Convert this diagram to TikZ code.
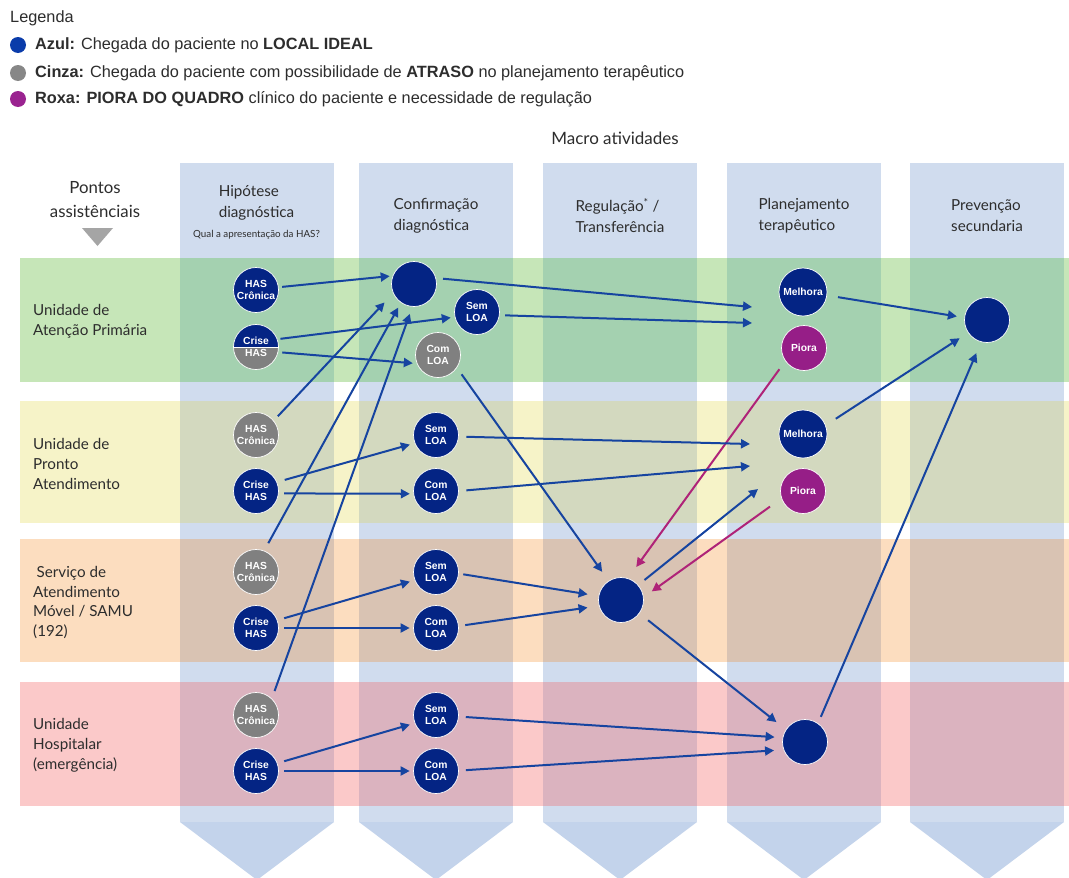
\documentclass[tikz,border=0pt]{standalone}
\usepackage{fontspec}
\setmainfont{Lato}
\newfontfamily\legfont{Liberation Sans}
\newfontfamily\nodefont{Liberation Sans}
\usetikzlibrary{arrows.meta}
\definecolor{navy}{RGB}{4,36,132}
\definecolor{nodegray}{RGB}{128,128,128}
\definecolor{purp}{RGB}{150,30,135}
\definecolor{arblue}{RGB}{22,68,160}
\definecolor{arpurp}{RGB}{175,35,120}
\definecolor{colblue}{RGB}{208,220,238}
\definecolor{chevblue}{RGB}{195,211,235}
\definecolor{rAo}{RGB}{198,230,184}
\definecolor{rAi}{RGB}{164,209,176}
\definecolor{rBo}{RGB}{246,243,200}
\definecolor{rBi}{RGB}{211,217,191}
\definecolor{rCo}{RGB}{252,221,191}
\definecolor{rCi}{RGB}{217,195,179}
\definecolor{rDo}{RGB}{251,201,201}
\definecolor{rDi}{RGB}{219,179,191}
\definecolor{legblue}{RGB}{10,60,170}
\definecolor{leggray}{RGB}{135,135,135}
\definecolor{legpurp}{RGB}{154,35,144}
\definecolor{txt}{RGB}{45,45,45}
\definecolor{trigray}{RGB}{165,165,165}
\begin{document}
\begin{tikzpicture}[x=1pt,y=-1pt,
  nd/.style={circle, minimum size=45pt, inner sep=0pt, draw=white, line width=0.7pt,
    text=white, align=center, font=\nodefont\bfseries\fontsize{10.3}{12.3}\selectfont},
  bl/.style={nd, fill=navy},
  gr/.style={nd, fill=nodegray},
  pu/.style={nd, fill=purp},
  ar/.style 2 args={draw=arblue, line width=2pt, -{Triangle[length=9pt,width=9pt]},
    shorten <=#1pt, shorten >=#2pt},
  arp/.style 2 args={draw=arpurp, line width=2pt, -{Triangle[length=9pt,width=9pt]},
    shorten <=#1pt, shorten >=#2pt},
  lbl/.style={anchor=west, align=left, inner sep=0pt, text=txt, font=\fontsize{15.2}{19.8}\selectfont},
  hdr/.style={align=left, text=txt, font=\fontsize{15.2}{21}\selectfont},
  leg/.style={anchor=west, inner sep=0pt, text=txt, font=\legfont\fontsize{16.3}{18}\selectfont},
  bul/.style={circle, minimum size=16pt, inner sep=0pt}
]
\useasboundingbox (0,0) rectangle (1069,878);
\fill[white] (0,0) rectangle (1069,878);

% columns
\foreach \x in {180,359,543,727,910}{
  \fill[colblue] (\x,163) rectangle (\x+154,822);
  \fill[chevblue] (\x,822) -- (\x+154,822) -- (\x+77,880) -- cycle;
}
% rows
\foreach \ya/\yb/\co/\ci in {258/382/rAo/rAi, 401/523/rBo/rBi, 539/662/rCo/rCi, 682/806/rDo/rDi}{
  \fill[\co] (20,\ya) rectangle (1069,\yb);
  \foreach \x in {180,359,543,727,910}{
    \fill[\ci] (\x,\ya) rectangle (\x+154,\yb);
  }
}

% legend
\node[leg] (legtitle) at (10,18) {Legenda};
\node[bul, fill=legblue] (b1) at (18,45) {};
\node[bul, fill=leggray] (b2) at (18,73) {};
\node[bul, fill=legpurp] (b3) at (18,99) {};
\node[leg] (l1) at (35,45) {\textbf{Azul:} Chegada do paciente no \textbf{LOCAL IDEAL}};
\node[leg] (l2) at (35,73) {\textbf{Cinza:} Chegada do paciente com possibilidade de \textbf{ATRASO} no planejamento terapêutico};
\node[leg] (l3) at (35,99) {\textbf{Roxa: PIORA DO QUADRO} clínico do paciente e necessidade de regulação};

% headers
\node[hdr, font=\fontsize{17}{18}\selectfont] (macro) at (615,138) {Macro atividades};
\node[hdr, align=center, font=\fontsize{16.8}{24}\selectfont] (pontos) at (95,200) {Pontos\\assistênciais};
\fill[trigray] (82,228) -- (113,228) -- (97.5,246) -- cycle;
\node[hdr] (hA) at (256.5,202.5) {Hipótese\\diagnóstica};
\node[hdr, align=center, font=\fontsize{9.8}{11}\selectfont] (hAq) at (256.5,235) {Qual a apresentação da HAS?};
\node[hdr] (hB) at (436,215.5) {Confirmação\\diagnóstica};
\node[hdr] (hC) at (620,215.5) {Regulação\textsuperscript{*} /\\Transferência};
\node[hdr] (hD) at (804,215.5) {Planejamento\\terapêutico};
\node[hdr] (hE) at (987,215.5) {Prevenção\\secundaria};

% row labels
\node[lbl] (rA) at (33,321.5) {Unidade de\\Atenção Primária};
\node[lbl] (rB) at (33,464) {Unidade de\\Pronto\\Atendimento};
\node[lbl] (rC) at (33,602.5) {\hspace*{3.5pt}Serviço de\\Atendimento\\Móvel / SAMU\\(192)};
\node[lbl] (rD) at (33,745) {Unidade\\Hospitalar\\(emergência)};

% nodes row 1
\node[bl] (h1c) at (256,290) {HAS\\Crônica};
\node[nd, fill=nodegray, path picture={
   \fill[navy] (path picture bounding box.north west) rectangle (path picture bounding box.east);
   \draw[white, line width=0.5pt] (path picture bounding box.west) -- (path picture bounding box.east);}]
   (h1k) at (256,347) {Crise\\HAS};
\node[bl] (c1) at (414,284) {};
\node[bl] (s1) at (477,312) {Sem\\LOA};
\node[gr] (k1) at (438,355) {Com\\LOA};
\node[bl, minimum size=48pt] (m1) at (803,292) {Melhora};
\node[pu] (p1) at (804,348) {Piora};
\node[bl] (e1) at (987,320) {};
% row 2
\node[gr] (h2c) at (256,435) {HAS\\Crônica};
\node[bl] (h2k) at (256,491) {Crise\\HAS};
\node[bl] (s2) at (436,435) {Sem\\LOA};
\node[bl] (k2) at (436,491) {Com\\LOA};
\node[bl, minimum size=48pt] (m2) at (803,434) {Melhora};
\node[pu] (p2) at (803,491) {Piora};
% row 3
\node[gr] (h3c) at (256,572) {HAS\\Crônica};
\node[bl] (h3k) at (256,628) {Crise\\HAS};
\node[bl] (s3) at (436,572) {Sem\\LOA};
\node[bl] (k3) at (436,628) {Com\\LOA};
\node[bl] (r3) at (621,600) {};
% row 4
\node[gr] (h4c) at (256,715) {HAS\\Crônica};
\node[bl] (h4k) at (256,771) {Crise\\HAS};
\node[bl] (s4) at (436,715) {Sem\\LOA};
\node[bl] (k4) at (436,771) {Com\\LOA};
\node[bl] (t4) at (805,742) {};

% free arrow ends
\coordinate (g1a) at (752,307);
\coordinate (g1b) at (752,323);
\coordinate (g2a) at (750,444);
\coordinate (g2b) at (750,466);
\coordinate (g2c) at (758,489);

% connectors
\draw[ar={3.5}{3}] (h1c.7) -- (c1.159);
\draw[ar={3}{4}] (h1k.20) -- (s1.193);
\draw[ar={4}{4}] (h1k.347) -- (k1.202);
\draw[ar={7}{0}] (c1.15) -- (g1a);
\draw[ar={5.5}{0}] (s1.352) -- (g1b);
\draw[ar={11}{7.5}] (m1.352) -- (e1.174);
\draw[ar={12}{10}] (m2.21) -- (e1.214);
\draw[ar={7}{12}] (t4.55) -- (e1.255);
\draw[arp={10}{14}] (p1.215) -- (r3.72);
\draw[arp={14}{10}] (p2.199) -- (r3.7);
\draw[ar={8}{11}] (k1.326) -- (r3.123);
\draw[ar={8}{0}] (r3.41) -- (g2c);
\draw[ar={11}{12}] (r3.324) -- (t4.147);
\draw[ar={6}{12.5}] (h2c.39) -- (c1.204);
\draw[ar={8}{5}] (h2k.23) -- (s2.201);
\draw[ar={5.5}{3.5}] (h2k.354) -- (k2.187);
\draw[ar={7.5}{0}] (s2.356) -- (g2a);
\draw[ar={7.5}{0}] (k2.0) -- (g2b);
\draw[ar={8.5}{5.5}] (h3c.69) -- (c1.235);
\draw[ar={7}{5}] (h3k.20) -- (s3.201);
\draw[ar={5.5}{3.5}] (h3k.0) -- (k3.180);
\draw[ar={4.5}{11}] (s3.356) -- (r3.170);
\draw[ar={6.5}{11.5}] (k3.5) -- (r3.195);
\draw[ar={8}{7.5}] (h4c.46) -- (c1.266);
\draw[ar={7}{5}] (h4k.20) -- (s4.201);
\draw[ar={5.5}{3.5}] (h4k.0) -- (k4.180);
\draw[ar={7}{8}] (s4.356) -- (t4.169);
\draw[ar={7}{9.5}] (k4.1) -- (t4.200);
\end{tikzpicture}
\end{document}
